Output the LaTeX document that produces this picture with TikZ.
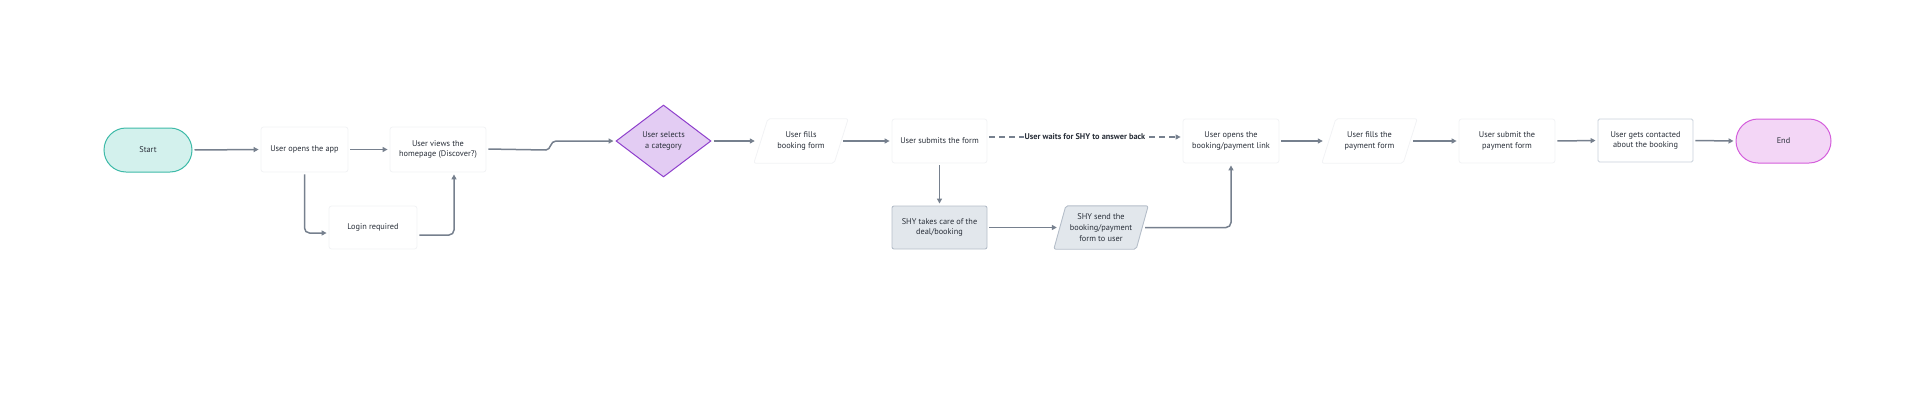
\documentclass[tikz,border=0pt]{standalone}
\usepackage{fontspec}
\setmainfont{PT Sans}
\usetikzlibrary{arrows.meta,shapes.geometric,calc}
\definecolor{arrowc}{HTML}{76808E}
\definecolor{txt}{HTML}{2A303A}
\definecolor{startfill}{HTML}{D3F1ED}
\definecolor{startline}{HTML}{3DBAA8}
\definecolor{diafill}{HTML}{E3CCF3}
\definecolor{dialine}{HTML}{8E3FCC}
\definecolor{endfill}{HTML}{F3D6F6}
\definecolor{endline}{HTML}{D45EDC}
\definecolor{shyfill}{HTML}{E2E7EC}
\definecolor{shyline}{HTML}{B5BEC9}
\definecolor{contline}{HTML}{C9D1DB}
\definecolor{faint}{HTML}{F2F3F5}
\begin{document}
\begin{tikzpicture}[x=1pt,y=-1pt,
  every node/.style={font=\fontsize{8.3}{10.7}\selectfont, text=txt, align=center, inner sep=0pt},
  terminal/.style={draw=#1, line width=1pt, minimum width=88pt, minimum height=44pt, rounded corners=22pt},
  faintbox/.style={draw=faint, line width=0.8pt, fill=white, rounded corners=2.5pt, minimum width=#1, minimum height=44pt},
  ghost/.style={minimum width=#1, minimum height=44pt},
  shybox/.style={draw=shyline, fill=shyfill, line width=0.9pt, rounded corners=2pt, minimum width=95pt, minimum height=43pt},
  contbox/.style={draw=contline, fill=white, line width=0.9pt, rounded corners=1.5pt, minimum width=95pt, minimum height=43pt},
  decision/.style={diamond, aspect=1.32, draw=dialine, fill=diafill, line width=1pt, minimum width=95pt, minimum height=72pt},
  arr/.style={draw=arrowc, line width=1.5pt, -{Triangle[length=5pt,width=5pt]}, shorten >=2pt, shorten <=2pt},
  line/.style={draw=arrowc, line width=1.5pt}
]
\useasboundingbox (0,0) rectangle (1920,402);

% nodes
\node[terminal=startline, fill=startfill] (start) at (148,150) {Start};
\node[faintbox=87pt, minimum height=45pt] (open) at (304.5,149.5) {User opens the app};
\node[faintbox=96pt, minimum height=45pt] (home) at (438,149.5) {User views the\\homepage (Discover?)};
\node[faintbox=88pt, minimum height=43pt] (login) at (373,227.5) {Login required};
\node[decision] (dia) at (663.5,141) {User selects\\a category};
\node[ghost=94pt] (fills) at (801,141) {};
\node[faintbox=95pt] (submits) at (939.5,141) {User submits the form};
\node[faintbox=96pt] (openlink) at (1231,141) {User opens the\\booking/payment link};
\node[shybox] (shytake) at (939.5,227.5) {SHY takes care of the\\deal/booking};
\node[ghost=94pt, minimum height=43pt] (shysend) at (1101,227.5) {};
\node[ghost=95pt] (fillspay) at (1369.5,141) {};
\node[faintbox=96pt] (submitpay) at (1507,141) {User submit the\\payment form};
\node[contbox] (contact) at (1645.5,140.5) {User gets contacted\\about the booking};
\node[terminal=endline, fill=endfill, minimum width=95pt] (end) at (1783.5,141) {End};

% parallelograms
\draw[draw=faint, line width=0.8pt, fill=white, rounded corners=2pt]
  (fills.south west) -- ($(fills.north west)+(14,0)$) -- (fills.north east) -- ($(fills.south east)-(14,0)$) -- cycle;
\node at (fills) {User fills\\booking form};
\draw[draw=shyline, fill=shyfill, line width=0.9pt, rounded corners=2pt]
  (shysend.south west) -- ($(shysend.north west)+(12,0)$) -- (shysend.north east) -- ($(shysend.south east)-(12,0)$) -- cycle;
\node at (shysend) {SHY send the\\booking/payment\\form to user};
\draw[draw=faint, line width=0.8pt, fill=white, rounded corners=2pt]
  (fillspay.south west) -- ($(fillspay.north west)+(14,0)$) -- (fillspay.north east) -- ($(fillspay.south east)-(14,0)$) -- cycle;
\node at (fillspay) {User fills the\\payment form};

% connectors
\draw[arr] (start.east) -- (open.west);
\draw[arr] (open.east) -- (home.west);
\draw[arr, rounded corners=5pt] (open.south) |- ([yshift=-5.5pt]login.west);
\draw[arr, rounded corners=5pt] ([yshift=-7.5pt]login.east) -| ([xshift=16pt]home.south);
\draw[arr] ([yshift=0.5pt]home.east) -- (546,150) .. controls (551,150) and (550,141) .. (556,141) -- (dia.west);
\draw[arr] (dia.east) -- ([xshift=3pt]fills.west);
\draw[arr] ([xshift=-7pt]fills.east) -- (submits.west);
\draw[arr, dashed, dash pattern=on 6pt off 4pt] ([yshift=4pt]submits.east) -- node[fill=white, inner xsep=1pt, inner ysep=2pt, font=\fontsize{8.3}{10}\selectfont\bfseries] {User waits for SHY to answer back} ([yshift=4pt]openlink.west);
\draw[arr] (submits.south) -- (shytake.north);
\draw[arr] (shytake.east) -- ([xshift=5pt]shysend.west);
\draw[arr, rounded corners=5pt] ([xshift=-5pt]shysend.east) -| (openlink.south);
\draw[arr] (openlink.east) -- ([xshift=3pt]fillspay.west);
\draw[arr] ([xshift=-6pt]fillspay.east) -- (submitpay.west);
\draw[arr] (submitpay.east) -- (contact.west);
\draw[arr] (contact.east) -- (end.west);
\end{tikzpicture}
\end{document}
